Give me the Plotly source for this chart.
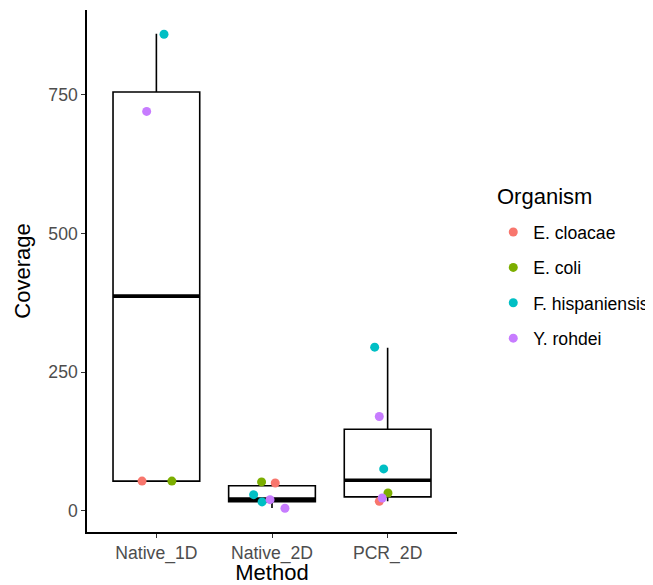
import numpy as np
import plotly.graph_objects as go

# ---- data ----
methods = ["Native_1D", "Native_2D", "PCR_2D"]
organisms = ["E. cloacae", "E. coli", "F. hispaniensis", "Y. rohdei"]
colors = ["#F8766D", "#7CAE00", "#00BFC4", "#C77CFF"]

# box summaries (per method)
box_low = [53.5, 5, 17]
box_q1 = [53.5, 16.5, 25]
box_median = [387, 21, 55]
box_q3 = [755, 45, 147]
box_high = [860, 45, 294]

# jittered points: method, organism, coverage, horizontal jitter (category units)
pt_method = ["Native_1D", "Native_1D", "Native_1D", "Native_1D",
             "Native_2D", "Native_2D", "Native_2D", "Native_2D", "Native_2D", "Native_2D",
             "PCR_2D", "PCR_2D", "PCR_2D", "PCR_2D", "PCR_2D", "PCR_2D"]
pt_org = ["F. hispaniensis", "Y. rohdei", "E. cloacae", "E. coli",
          "E. coli", "E. cloacae", "F. hispaniensis", "F. hispaniensis", "Y. rohdei", "Y. rohdei",
          "F. hispaniensis", "Y. rohdei", "F. hispaniensis", "E. coli", "Y. rohdei", "E. cloacae"]
pt_cov = [859, 720, 53.5, 53.5,
          52, 50, 29, 16, 20, 4.5,
          295, 170, 75.5, 32, 23, 17]
pt_jitter = [0.066, -0.084, -0.124, 0.134,
             -0.09, 0.028, -0.159, -0.086, -0.017, 0.112,
             -0.112, -0.072, -0.034, 0.003, -0.047, -0.072]

FONT = "Liberation Sans, Arial, Helvetica, sans-serif"
box_width = 0.75

pos = {m: i + 1 for i, m in enumerate(methods)}
xs = list(range(1, len(methods) + 1))

fig = go.Figure()

fig.add_trace(go.Box(
    x=xs, q1=box_q1, median=box_median, q3=box_q3,
    lowerfence=box_low, upperfence=box_high,
    width=box_width, whiskerwidth=0, fillcolor="white",
    line=dict(color="black", width=1.6), boxpoints=False,
    showlegend=False, hoverinfo="skip",
))

# thicker median lines
mx, my = [], []
for x, m in zip(xs, box_median):
    mx += [x - box_width / 2, x + box_width / 2, None]
    my += [m, m, None]
fig.add_trace(go.Scatter(x=mx, y=my, mode="lines",
                         line=dict(color="black", width=3.6),
                         showlegend=False, hoverinfo="skip"))

for org, col in zip(organisms, colors):
    px_, py_ = [], []
    for m, o, c, j in zip(pt_method, pt_org, pt_cov, pt_jitter):
        if o == org:
            px_.append(pos[m] + j)
            py_.append(c)
    fig.add_trace(go.Scatter(
        x=px_, y=py_, mode="markers", name=org, legendgroup=org,
        marker=dict(color=col, size=9, line=dict(width=0)),
    ))

all_y = pt_cov + box_low + box_high
ymin, ymax = min(all_y), max(all_y)
pad = 0.05 * (ymax - ymin)

# the page body adds an 8px offset; size and margins compensate for it
fig.update_layout(
    width=645, height=577,
    margin=dict(l=79, r=196, t=2, b=53, autoexpand=False),
    paper_bgcolor="white", plot_bgcolor="white",
    font=dict(family=FONT, color="black"),
    showlegend=True,
    legend=dict(
        font=dict(size=17.6, color="black"),
        x=1.098, xanchor="left", y=0.609, yanchor="top",
        tracegroupgap=9.5, itemsizing="trace",
        bgcolor="rgba(0,0,0,0)",
    ),
    annotations=[dict(
        text="Organism", x=1.103, y=0.6435, xref="paper", yref="paper",
        xanchor="left", yanchor="middle", showarrow=False,
        font=dict(size=22, color="black", family=FONT),
    )],
    xaxis=dict(
        range=[0.4, len(methods) + 0.6],
        tickvals=xs, ticktext=methods,
        showline=True, linecolor="black", linewidth=1.5,
        ticks="outside", ticklen=4, tickwidth=1.4, tickcolor="#333333",
        tickfont=dict(size=17.6, color="#4D4D4D"),
        showgrid=False, zeroline=False, automargin=False,
        title=dict(text="Method", font=dict(size=22, color="black"), standoff=9),
    ),
    yaxis=dict(
        range=[ymin - pad, ymax + pad],
        tickvals=[0, 250, 500, 750],
        showline=True, linecolor="black", linewidth=1.5,
        ticks="outside", ticklen=4, tickwidth=1.4, tickcolor="#333333",
        tickfont=dict(size=17.6, color="#4D4D4D"),
        showgrid=False, zeroline=False, automargin=False,
        title=dict(text="Coverage", font=dict(size=22, color="black"), standoff=12),
    ),
)

fig.write_html("out.html")
